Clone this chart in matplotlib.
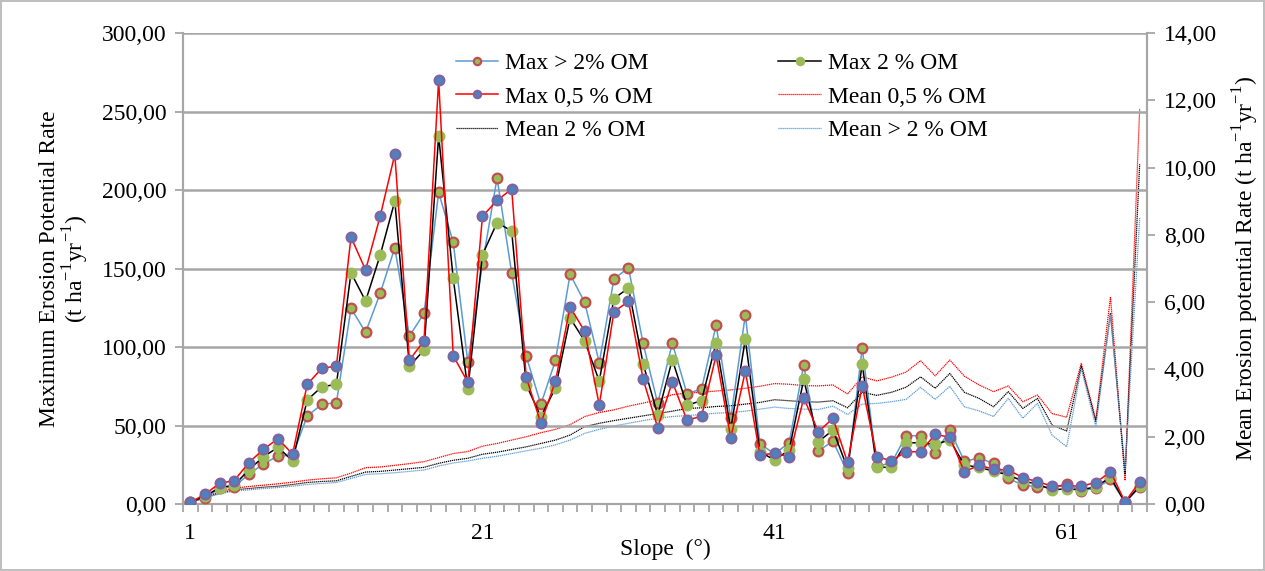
import matplotlib
matplotlib.use('Agg')
import matplotlib.pyplot as plt
import numpy as np
from matplotlib.ticker import FuncFormatter, MultipleLocator, FixedLocator

plt.rcParams['font.family'] = ['Liberation Serif', 'DejaVu Serif']
plt.rcParams['mathtext.fontset'] = 'custom'
plt.rcParams['mathtext.rm'] = 'Liberation Serif'

slope = np.arange(1, 67)

# maximum erosion potential rate (left axis)
max_gt2 = [1, 4, 10, 11, 19, 25.5, 30.6, 31, 56, 63.5, 64.5, 124.6, 109.4, 134.2, 163.3, 107,
           121.4, 198.5, 166.6, 90.2, 153, 207.6, 147.3, 94, 63.5, 91.5, 146.3, 128.5, 90, 143.3,
           150.5, 102.3, 64.1, 102.5, 70.3, 73.2, 114, 54.5, 120.5, 38.3, 32, 39, 88.7, 33.8,
           40.1, 20, 99.6, 24.2, 26, 43.5, 43.5, 32.3, 47.1, 27.3, 29.2, 25.9, 16.3, 12.1, 11,
           10.6, 12.7, 8.5, 10, 15.7, 1, 10.6]
max_2 = [1, 5, 10.4, 12, 21.7, 30.1, 36.1, 27.6, 66.2, 74.7, 76.2, 147.3, 129.3, 158.6, 193, 87.9,
         98, 234.4, 143.7, 73, 158.8, 179.2, 173.9, 76, 55.6, 73.9, 118.5, 103.8, 78.3, 130.8,
         137.6, 89.4, 56.7, 91.9, 62.9, 65.8, 102.8, 47.6, 105, 33.3, 28, 34.4, 79.4, 39.7,
         47.1, 22.7, 89.2, 23.4, 23.4, 39, 39, 38, 40.8, 24.8, 23.4, 20.9, 18.5, 14.6, 12.7,
         9, 9.7, 9, 11, 17, 1, 11.5]
max_05 = [1.1, 6.2, 13.2, 14.9, 26.3, 34.8, 41.6, 31.8, 76.2, 86.4, 87.9, 170, 149, 183.4, 222.7,
          91.7, 104, 270, 94.5, 77.5, 183.2, 193.4, 200.6, 80.7, 51.4, 78.3, 125.5, 110, 63,
          122.5, 129, 79.6, 48.6, 77.9, 53.5, 55.8, 94.7, 42, 84.7, 31.2, 32.3, 30.1, 67.5, 46,
          54.6, 26.5, 75.4, 30.1, 27.6, 33.3, 33.3, 44.4, 42.5, 20.5, 24.8, 22.1, 21.7, 16.8,
          14.2, 11.5, 11.5, 11.5, 13.6, 20.6, 1.3, 14.2]

# mean erosion potential rate (right axis)
mean_05 = [0.05, 0.22, 0.36, 0.47, 0.52, 0.56, 0.6, 0.65, 0.71, 0.75, 0.78, 0.92, 1.08, 1.1, 1.15,
           1.2, 1.26, 1.38, 1.5, 1.56, 1.72, 1.8, 1.9, 2.0, 2.12, 2.22, 2.36, 2.6, 2.72, 2.8,
           2.91, 3.0, 3.1, 3.25, 3.3, 3.32, 3.36, 3.39, 3.44, 3.5, 3.58, 3.56, 3.52, 3.51, 3.54,
           3.27, 3.78, 3.66, 3.77, 3.92, 4.26, 3.81, 4.28, 3.8, 3.54, 3.34, 3.51, 3.04, 3.24,
           2.69, 2.58, 4.18, 2.5, 6.16, 0.7, 11.75]
mean_2 = [0.05, 0.2, 0.32, 0.42, 0.46, 0.5, 0.53, 0.58, 0.64, 0.67, 0.69, 0.82, 0.95, 0.97, 1.01,
          1.05, 1.09, 1.21, 1.3, 1.36, 1.48, 1.54, 1.62, 1.7, 1.8, 1.9, 2.05, 2.3, 2.4, 2.48,
          2.55, 2.62, 2.69, 2.76, 2.84, 2.86, 2.9, 2.92, 2.97, 3.02, 3.1, 3.07, 3.04, 3.03, 3.07,
          2.86, 3.32, 3.23, 3.32, 3.47, 3.78, 3.44, 3.88, 3.32, 3.14, 2.89, 3.34, 2.84, 3.14,
          2.35, 2.17, 4.1, 2.45, 5.67, 0.9, 10.1]
mean_gt2 = [0.05, 0.18, 0.3, 0.39, 0.42, 0.46, 0.49, 0.53, 0.58, 0.61, 0.64, 0.76, 0.88, 0.9, 0.93,
            0.97, 1.01, 1.13, 1.22, 1.28, 1.36, 1.42, 1.5, 1.58, 1.66, 1.76, 1.9, 2.1, 2.22, 2.32,
            2.4, 2.48, 2.55, 2.6, 2.63, 2.66, 2.7, 2.72, 2.76, 2.82, 2.88, 2.84, 2.82, 2.81, 2.91,
            2.66, 2.97, 2.99, 3.04, 3.11, 3.47, 3.11, 3.5, 2.89, 2.77, 2.6, 3.14, 2.55, 2.99,
            2.05, 1.7, 4.03, 2.3, 5.62, 1.0, 8.5]

comma = FuncFormatter(lambda v, pos: '{:.2f}'.format(v).replace('.', ','))
grid_col = '#a6a6a6'
fs = 17

fig = plt.figure(figsize=(12.65, 5.71), dpi=100)
fig.patch.set_edgecolor('#bfbfbf')
fig.patch.set_linewidth(1.5)
ax1 = fig.add_axes([0.1447, 0.1173, 0.7620, 0.8249])
ax2 = ax1.twinx()

# Max series with markers on the left axis
h1, = ax1.plot(slope, max_gt2, color='#5b9bd5', lw=1.1, marker='o', ms=7,
               mfc='#9bbb59', mec='#c0504d', mew=1.6, label='Max > 2% OM', zorder=3)
h2, = ax1.plot(slope, max_2, color='black', lw=1.1, marker='o', ms=7,
               mfc='#9bbb59', mec='#9bbb59', mew=1.6, label='Max 2 % OM', zorder=4)
h3, = ax1.plot(slope, max_05, color='red', lw=1.1, marker='o', ms=7,
               mfc='#4f81bd', mec='#8064a2', mew=1.6, label='Max 0,5 % OM', zorder=5)

# Mean series on the right axis
h4, = ax2.plot(slope, mean_05, color='red', lw=0.9, ls=(0, (1, 0.6)), label='Mean 0,5 % OM')
h5, = ax2.plot(slope, mean_2, color='black', lw=0.9, ls=(0, (1, 0.6)), label='Mean 2 % OM')
h6, = ax2.plot(slope, mean_gt2, color='#5b9bd5', lw=0.9, ls=(0, (1, 0.6)), label='Mean > 2 % OM')

ax1.set_xlim(0.5, 66.5)
ax1.set_ylim(0, 300)
ax2.set_ylim(0, 14)
ax1.yaxis.set_major_locator(MultipleLocator(50))
ax2.yaxis.set_major_locator(MultipleLocator(2))
ax1.yaxis.set_major_formatter(comma)
ax2.yaxis.set_major_formatter(comma)

ax1.set_xticks([1, 21, 41, 61])
ax1.xaxis.set_minor_locator(FixedLocator(np.arange(0.5, 67, 1)))
ax1.tick_params(axis='x', which='major', length=0, labelsize=fs, pad=14)
ax1.tick_params(axis='x', which='minor', length=6, width=1.3, color=grid_col, direction='out')
ax1.tick_params(axis='y', length=6, width=1.3, color=grid_col, labelsize=fs, pad=6)
ax2.tick_params(axis='y', length=6, width=1.3, color=grid_col, labelsize=fs, pad=6)

ax1.grid(axis='y', color=grid_col, lw=1.8)
ax1.set_axisbelow(True)
for ax in (ax1, ax2):
    for s in ax.spines.values():
        s.set_color(grid_col)
        s.set_linewidth(1.5)
    ax.spines['top'].set_visible(False)
ax1.set_zorder(ax2.get_zorder() + 1)
ax1.patch.set_visible(False)

ax1.set_ylabel('Maximum Erosion Potential Rate\n(t ha$^{\\mathregular{-1}}$yr$^{\\mathregular{-1}}$)',
               fontsize=fs, labelpad=8, linespacing=1.0)
ax2.set_ylabel('Mean Erosion potential Rate (t ha$^{\\mathregular{-1}}$yr$^{\\mathregular{-1}}$)',
               fontsize=fs, labelpad=10)
ax1.set_xlabel('Slope  (°)', fontsize=fs, labelpad=-4)

# legend fills row by row in the reference, matplotlib fills by column
handles = [h1, h3, h5, h2, h4, h6]
leg = ax1.legend(handles=handles, ncol=2, loc='upper left', bbox_to_anchor=(0.261, 1.003),
                 frameon=False, fontsize=fs, handlelength=1.8, columnspacing=5.3,
                 labelspacing=0.5, handletextpad=0.3, markerscale=0.75)

fig.savefig('out.png', dpi=100)
